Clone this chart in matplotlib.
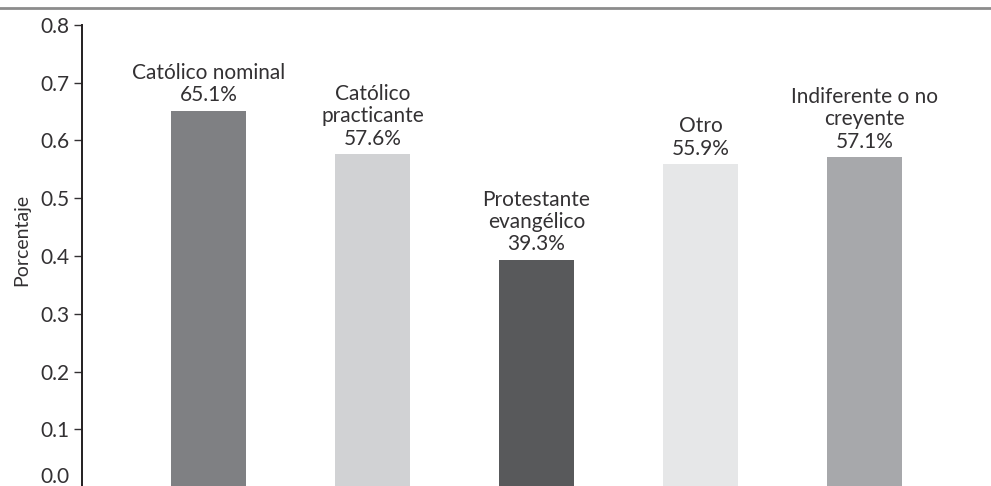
import matplotlib.pyplot as plt
from matplotlib.lines import Line2D

categories = ["Católico nominal", "Católico\npracticante", "Protestante\nevangélico",
              "Otro", "Indiferente o no\ncreyente"]
values = [0.651, 0.576, 0.393, 0.559, 0.571]
pct_labels = ["65.1%", "57.6%", "39.3%", "55.9%", "57.1%"]
bar_colors = ["#7f8083", "#d1d2d4", "#58595b", "#e6e7e8", "#a7a8ab"]
yticks = [0.0, 0.1, 0.2, 0.3, 0.4, 0.5, 0.6, 0.7, 0.8]

txt = "#333133"
plt.rcParams["font.family"] = ["Lato", "DejaVu Sans"]

fig = plt.figure(figsize=(9.91, 4.86), dpi=100)
H = 486.0
ax = fig.add_axes([82 / 991, -1 / H, 1 - 82 / 991, (487 - 25) / H])

x = list(range(len(values)))
ax.bar(x, values, width=0.46, color=bar_colors)

for i, (name, v, p) in enumerate(zip(categories, values, pct_labels)):
    ax.annotate(name + "\n" + p, (i, v), xytext=(0, 4), textcoords="offset points",
                ha="center", va="bottom", fontsize=15, color=txt, linespacing=1.15)

ax.set_xlim(-0.77, 4.77)
ax.set_ylim(0, 0.8)
ax.set_yticks(yticks)
ax.set_yticklabels(["%.1f" % t for t in yticks])
ax.set_xticks([])
ax.set_ylabel("Porcentaje", fontsize=14, color=txt, va="center")
ax.yaxis.set_label_coords(-0.066, 0.535)
ax.tick_params(axis="y", length=6, width=1, colors=txt, labelsize=15, pad=3)
ax.get_yticklabels()[0].set_va("bottom")

for s in ["top", "right", "bottom"]:
    ax.spines[s].set_visible(False)
ax.spines["left"].set_linewidth(1.4)
ax.spines["left"].set_color("#231f20")

fig.add_artist(Line2D([0, 990 / 991], [1 - 8.5 / H, 1 - 8.5 / H],
                      transform=fig.transFigure, color="#8c8c8c", linewidth=2))

fig.savefig("out.png", dpi=100)
